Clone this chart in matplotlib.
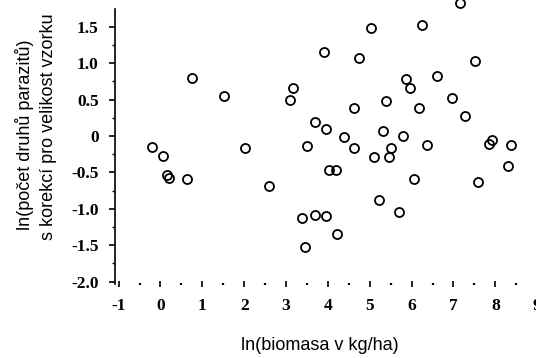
import numpy as np
import matplotlib.pyplot as plt
from matplotlib.ticker import MultipleLocator

# ln(biomasa) vs. corrected ln(number of parasite species)
biomass = [-0.20, 0.07, 0.15, 0.20, 0.64, 0.75, 1.52, 2.03, 2.59, 3.09,
           3.16, 3.38, 3.46, 3.51, 3.68, 3.68, 3.95, 3.95, 3.91, 4.03,
           4.19, 4.21, 4.38, 4.62, 4.62, 4.74, 5.02, 5.09, 5.23, 5.32,
           5.39, 5.46, 5.50, 5.71, 5.79, 5.86, 5.96, 6.06, 6.18, 6.26,
           6.37, 6.60, 6.97, 7.16, 7.28, 7.58, 7.51, 7.84, 7.91, 8.38,
           8.31]
species = [-0.15, -0.27, -0.54, -0.58, -0.59, 0.80, 0.55, -0.16, -0.68, 0.50,
           0.66, -1.13, -1.53, -0.14, 0.19, -1.09, 0.09, -1.10, 1.15, -0.47,
           -0.47, -1.35, -0.02, -0.16, 0.39, 1.07, 1.48, -0.29, -0.88, 0.07,
           0.48, -0.29, -0.16, -1.05, 0.00, 0.78, 0.66, -0.59, 0.38, 1.52,
           -0.12, 0.83, 0.52, 1.83, 0.27, -0.63, 1.03, -0.11, -0.05, -0.12,
           -0.41]

xticks = [-1, 0, 1, 2, 3, 4, 5, 6, 7, 8, 9]
yticks = [1.5, 1.0, 0.5, 0, -0.5, -1.0, -1.5, -2.0]
ytick_labels = ["1.5", "1.0", "0.5", "0", "-0.5", "-1.0", "-1.5", "-2.0"]

xlabel = "ln(biomasa v kg/ha)"
ylabel_1 = "ln(počet druhů parazitů)"
ylabel_2 = "s korekcí pro velikost vzorku"

fig = plt.figure(figsize=(5.36, 3.58), dpi=100)
ax = fig.add_axes([0.2151, 0.2081, 0.7871, 0.7659])

ax.plot(biomass, species, linestyle="none", marker="o", markersize=6.5,
        markerfacecolor="none", markeredgecolor="black", markeredgewidth=1.3,
        clip_on=False)

ax.set_xlim(-1.08, 9.0)
ax.set_ylim(-2.026, 1.74)

for side in ["top", "right", "bottom"]:
    ax.spines[side].set_visible(False)
ax.spines["left"].set_linewidth(1.2)

ax.set_xticks(xticks)
ax.set_xticklabels([str(t) for t in xticks])
ax.xaxis.set_minor_locator(MultipleLocator(0.5))
ax.set_yticks(yticks)
ax.set_yticklabels(ytick_labels)
ax.yaxis.set_minor_locator(MultipleLocator(0.25))

ax.tick_params(axis="x", which="major", direction="inout", length=5, width=1.2, pad=8)
ax.tick_params(axis="x", which="minor", direction="inout", length=1.6, width=1.6)
ax.tick_params(axis="y", which="major", direction="out", length=4, width=1.2, pad=8)
ax.tick_params(axis="y", which="minor", direction="out", length=2.5, width=1.0)

for lab in ax.get_xticklabels() + ax.get_yticklabels():
    lab.set_family("Liberation Serif")
    lab.set_fontweight("bold")
    lab.set_fontsize(12.5)

fig.text(320 / 536, 1 - 346 / 358, xlabel, family="Liberation Sans",
         fontsize=13, ha="center", va="center")
fig.text(25 / 536, 1 - 135 / 358, ylabel_1, family="Liberation Sans",
         fontsize=13, ha="center", va="center", rotation=90)
fig.text(49 / 536, 1 - 127 / 358, ylabel_2, family="Liberation Sans",
         fontsize=13, ha="center", va="center", rotation=90)

fig.savefig("out.png", dpi=100)
plt.close(fig)
